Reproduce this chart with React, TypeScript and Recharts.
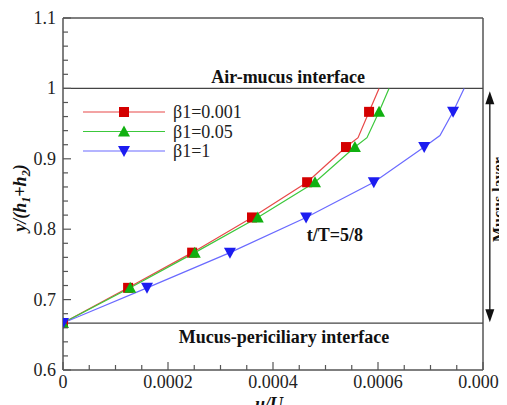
import React from 'react';
import { LineChart, Line, XAxis, YAxis, ReferenceLine, ReferenceDot, Legend } from 'recharts';

const xTicks = [0, 0.00005, 0.0001, 0.00015, 0.0002, 0.00025, 0.0003, 0.00035, 0.0004, 0.00045, 0.0005, 0.00055, 0.0006, 0.00065, 0.0007, 0.00075, 0.0008];
const xMajor = [0, 0.0002, 0.0004, 0.0006, 0.0008];
const xLabels = ['0', '0.0002', '0.0004', '0.0006', '0.0008'];
const yTicks = [0.6, 0.62, 0.64, 0.66, 0.68, 0.7, 0.72, 0.74, 0.76, 0.78, 0.8, 0.82, 0.84, 0.86, 0.88, 0.9, 0.92, 0.94, 0.96, 0.98, 1.0, 1.02, 1.04, 1.06, 1.08, 1.1];
const yMajor = [0.6, 0.7, 0.8, 0.9, 1.0, 1.1];
const yLabels = ['0.6', '0.7', '0.8', '0.9', '1', '1.1'];

const seriesNames = ['β1=0.001', 'β1=0.05', 'β1=1'];

const redX = [0, 0.000124, 0.000246, 0.00036, 0.000465, 0.000539, 0.000562, 0.000583, 0.000602];
const redY = [0.6667, 0.7167, 0.7667, 0.8167, 0.8667, 0.9167, 0.93, 0.9667, 1.0];
const redMarker = [1, 1, 1, 1, 1, 1, 0, 1, 0];

const greenX = [0, 0.000128, 0.000251, 0.000371, 0.00048, 0.000556, 0.000579, 0.000602, 0.000621];
const greenY = [0.6667, 0.7167, 0.7667, 0.8167, 0.8667, 0.9167, 0.93, 0.9667, 1.0];
const greenMarker = [1, 1, 1, 1, 1, 1, 0, 1, 0];

const blueX = [0, 0.00016, 0.000318, 0.000463, 0.000592, 0.000688, 0.000718, 0.000743, 0.000764];
const blueY = [0.6667, 0.7167, 0.7667, 0.8167, 0.8667, 0.9167, 0.933, 0.9667, 1.0];
const blueMarker = [1, 1, 1, 1, 1, 1, 0, 1, 0];

const build = (xs: number[], ys: number[], ms: number[]) => xs.map((x, i) => ({ x, y: ys[i], m: ms[i] }));
const redData = build(redX, redY, redMarker);
const greenData = build(greenX, greenY, greenMarker);
const blueData = build(blueX, blueY, blueMarker);

const FONT = '"Liberation Serif", serif';
const AXIS = '#555';
const TICK_MARGIN = 4;
const fstyle = { fontFamily: FONT };

const markerShape = (kind: string, cx: number, cy: number, fill: string) => {
  if (kind === 'square') return <rect x={cx - 5} y={cy - 5} width={10} height={10} fill={fill} />;
  if (kind === 'up') return <polygon points={`${cx},${cy - 6} ${cx + 6},${cy + 5} ${cx - 6},${cy + 5}`} fill={fill} />;
  return <polygon points={`${cx - 6},${cy - 5} ${cx + 6},${cy - 5} ${cx},${cy + 6}`} fill={fill} />;
};

const makeDot = (kind: string, fill: string) => (props: any) => {
  const { cx, cy, payload, index } = props;
  if (!payload || !payload.m || cx == null || cy == null) return <g key={`d-${kind}-${index}`} />;
  return <g key={`d-${kind}-${index}`}>{markerShape(kind, cx, cy, fill)}</g>;
};

const XTick = (props: any) => {
  const { x, y, payload } = props;
  const v = payload.value;
  const idx = xMajor.findIndex((m) => Math.abs(m - v) < 1e-9);
  const axisY = y - TICK_MARGIN;
  const len = idx >= 0 ? 8 : 5;
  return (
    <g>
      <line x1={x} x2={x} y1={axisY} y2={axisY - len} stroke={AXIS} strokeWidth={1.2} />
      {idx >= 0 && (
        <text x={x} y={axisY + 18} textAnchor="middle" style={fstyle} fontSize={18} fill="#222">
          {xLabels[idx]}
        </text>
      )}
    </g>
  );
};

const YTick = (props: any) => {
  const { x, y, payload } = props;
  const v = payload.value;
  const idx = yMajor.findIndex((m) => Math.abs(m - v) < 1e-9);
  const axisX = x + TICK_MARGIN;
  const len = idx >= 0 ? 8 : 5;
  return (
    <g>
      <line x1={axisX} x2={axisX + len} y1={y} y2={y} stroke={AXIS} strokeWidth={1.2} />
      {idx >= 0 && (
        <text x={axisX - 7} y={y + 6} textAnchor="end" style={fstyle} fontSize={18} fill="#222">
          {yLabels[idx]}
        </text>
      )}
    </g>
  );
};

const legendItems = [
  { name: seriesNames[0], color: '#e84848', mark: '#d40000', kind: 'square' },
  { name: seriesNames[1], color: '#3cc83c', mark: '#10b010', kind: 'up' },
  { name: seriesNames[2], color: '#6a6aff', mark: '#1c1cf0', kind: 'down' },
];

const LegendContent = () => (
  <svg width={190} height={62}>
    {legendItems.map((it, i) => {
      const cy = 10 + i * 19.5;
      return (
        <g key={it.name}>
          <line x1={0} x2={82} y1={cy} y2={cy} stroke={it.color} strokeWidth={1.2} />
          {markerShape(it.kind, 41, cy, it.mark)}
          <text x={90} y={cy + 6} style={fstyle} fontSize={18} fill="#222">{it.name}</text>
        </g>
      );
    })}
  </svg>
);

const textShape = (txt: string, opts: { size?: number; rotate?: boolean }) => (p: any) => {
  const { cx, cy } = p;
  return (
    <text
      x={cx}
      y={cy}
      textAnchor="middle"
      dominantBaseline="central"
      style={fstyle}
      fontWeight="bold"
      fontSize={opts.size ?? 18}
      fill="#111"
      transform={opts.rotate ? `rotate(-90 ${cx} ${cy})` : undefined}
    >
      {txt}
    </text>
  );
};

const ArrowShape = (p: any) => {
  const { x1, y1, y2 } = p;
  const top = Math.min(y1, y2);
  const bot = Math.max(y1, y2);
  const x = x1;
  return (
    <g>
      <line x1={x} x2={x} y1={top + 8} y2={bot - 8} stroke="#111" strokeWidth={1.3} />
      <polygon points={`${x},${top} ${x + 4.5},${top + 13} ${x - 4.5},${top + 13}`} fill="#111" />
      <polygon points={`${x},${bot} ${x + 4.5},${bot - 13} ${x - 4.5},${bot - 13}`} fill="#111" />
    </g>
  );
};

const YLabel = (props: any) => {
  const vb = props.viewBox || { x: 0, y: 10, width: 55, height: 352 };
  const cx = vb.x + 18;
  const cy = vb.y + 180;
  return (
    <text
      x={cx}
      y={cy}
      textAnchor="middle"
      style={fstyle}
      fontWeight="bold"
      fontStyle="italic"
      fontSize={18}
      fill="#111"
      transform={`rotate(-90 ${cx} ${cy})`}
    >
      y/(h<tspan fontSize={12} dy={4}>1</tspan>
      <tspan dy={-4}>+h</tspan>
      <tspan fontSize={12} dy={4}>2</tspan>
      <tspan dy={-4}>)</tspan>
    </text>
  );
};

const XLabel = (props: any) => {
  const vb = props.viewBox || { x: 55, y: 362, width: 420, height: 35 };
  return (
    <text x={vb.x + vb.width / 2 - 4} y={vb.y + 40} textAnchor="middle" style={fstyle} fontWeight="bold" fontStyle="italic" fontSize={18} fill="#111">
      u/U
    </text>
  );
};

export default function App() {
  return (
    <div style={{ width: 499, height: 397, background: '#fff', position: 'relative' }}>
      <style>{'html{overflow:hidden;}'}</style>
      <LineChart width={499} height={397} margin={{ top: 10, right: 24, bottom: 0, left: 0 }}>
        <XAxis
          type="number"
          dataKey="x"
          domain={[0, 0.0008]}
          ticks={xTicks}
          interval={0}
          allowDataOverflow
          height={35}
          tickSize={0}
          tickMargin={TICK_MARGIN}
          tickLine={false}
          tick={XTick}
          axisLine={{ stroke: AXIS, strokeWidth: 1.5 }}
          label={<XLabel />}
        />
        <YAxis
          type="number"
          dataKey="y"
          domain={[0.6, 1.1]}
          ticks={yTicks}
          interval={0}
          allowDataOverflow
          width={55}
          tickSize={0}
          tickMargin={TICK_MARGIN}
          tickLine={false}
          tick={YTick}
          axisLine={{ stroke: AXIS, strokeWidth: 1.5 }}
          label={<YLabel />}
        />
        <ReferenceLine y={1.1} stroke={AXIS} strokeWidth={1.5} />
        <ReferenceLine x={0.0008} stroke={AXIS} strokeWidth={1.5} />
        <ReferenceLine y={1.0} stroke="#444" strokeWidth={1.3} />
        <ReferenceLine y={0.6667} stroke="#444" strokeWidth={1.3} />
        <ReferenceLine
          segment={[{ x: 0.000813, y: 0.996 }, { x: 0.000813, y: 0.668 }]}
          ifOverflow="visible"
          shape={ArrowShape}
        />
        <ReferenceDot x={0.000429} y={1.016} r={0} ifOverflow="visible" shape={textShape('Air-mucus interface', {})} />
        <ReferenceDot x={0.000421} y={0.647} r={0} ifOverflow="visible" shape={textShape('Mucus-periciliary interface', {})} />
        <ReferenceDot x={0.000518} y={0.792} r={0} ifOverflow="visible" shape={textShape('t/T=5/8', {})} />
        <ReferenceDot x={0.000829} y={0.842} r={0} ifOverflow="visible" shape={textShape('Mucus layer', { size: 16, rotate: true })} />
        <Line data={redData} dataKey="y" name={seriesNames[0]} stroke="#e84848" strokeWidth={1.2} dot={makeDot('square', '#d40000')} activeDot={false} isAnimationActive={false} />
        <Line data={greenData} dataKey="y" name={seriesNames[1]} stroke="#3cc83c" strokeWidth={1.2} dot={makeDot('up', '#10b010')} activeDot={false} isAnimationActive={false} />
        <Line data={blueData} dataKey="y" name={seriesNames[2]} stroke="#6a6aff" strokeWidth={1.2} dot={makeDot('down', '#1c1cf0')} activeDot={false} isAnimationActive={false} />
        <Legend
          layout="vertical"
          align="center"
          verticalAlign="middle"
          content={LegendContent}
          wrapperStyle={{ position: 'absolute', left: 75, top: 94, width: 190, height: 62 }}
        />
      </LineChart>
    </div>
  );
}
